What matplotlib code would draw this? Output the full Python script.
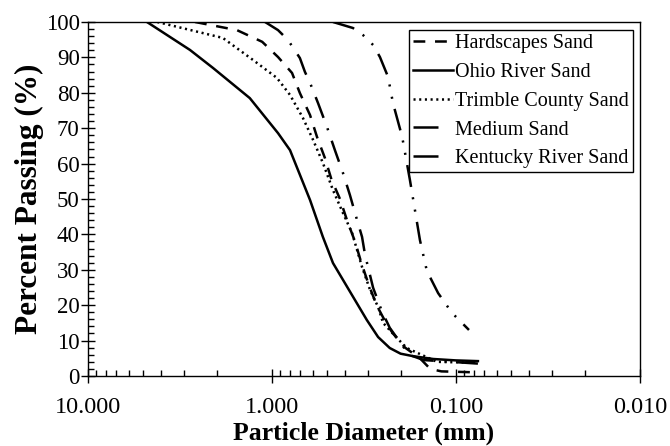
import numpy as np
import matplotlib
matplotlib.use("Agg")
from matplotlib import pyplot as plt
from matplotlib.ticker import MultipleLocator, LogLocator, FixedFormatter, FixedLocator

plt.rcParams['font.family'] = ['Liberation Serif', 'DejaVu Serif']
plt.rcParams['lines.scale_dashes'] = False

# gradation curves, particle diameter (mm) vs percent passing
hard_d = [2.62, 1.55, 1.13, 0.927, 0.778, 0.705, 0.621, 0.569, 0.515, 0.475, 0.427,
          0.391, 0.354, 0.327, 0.299, 0.270, 0.240, 0.220, 0.189, 0.157, 0.138, 0.120, 0.075]
hard_p = [100, 97.7, 94.4, 90.1, 85.6, 79.9, 73.7, 67.5, 61.5, 55.5, 50.0,
          44.0, 38.0, 32.0, 26.0, 20.0, 15.0, 12.0, 8.0, 5.0, 2.0, 1.3, 1.0]

ohio_d = [4.78, 2.79, 2.09, 1.32, 0.927, 0.798, 0.621, 0.529, 0.466, 0.305,
          0.265, 0.229, 0.200, 0.171, 0.133, 0.100, 0.076]
ohio_p = [100, 92.1, 87.0, 78.5, 68.6, 63.8, 49.7, 39.3, 31.9, 15.8,
          11.0, 7.9, 6.3, 5.6, 4.8, 4.4, 4.2]

trim_d = [4.2, 1.85, 1.27, 0.940, 0.798, 0.679, 0.598, 0.529, 0.466, 0.411, 0.367,
          0.324, 0.293, 0.265, 0.249, 0.209, 0.185, 0.127, 0.076]
trim_p = [100, 95.5, 89.3, 84.2, 79.4, 72.9, 66.7, 60.2, 52.5, 46.0, 40.4,
          30.8, 24.3, 19.5, 15.0, 10.7, 7.9, 4.0, 3.7]

med_d = [1.09, 0.927, 0.818, 0.705, 0.662, 0.621, 0.562, 0.502, 0.455, 0.411, 0.377,
         0.345, 0.324, 0.312, 0.282, 0.252, 0.229, 0.180, 0.150, 0.076]
med_p = [100, 97.7, 94.9, 89.8, 85.9, 82.8, 77.1, 70.3, 63.8, 57.3, 51.1,
         44.1, 39.3, 34.2, 24.9, 18.1, 13.6, 6.0, 4.5, 3.5]

ky_d = [0.466, 0.363, 0.320, 0.282, 0.259, 0.234, 0.220, 0.196, 0.178, 0.157, 0.144,
        0.125, 0.105, 0.085]
ky_p = [100, 98.3, 96.3, 93.5, 90.1, 84.5, 77.1, 67.5, 55.4, 38.4, 29.7,
        23.4, 17.8, 13.0]

x_ticks = [10, 1, 0.1, 0.01]
x_labels = ['10.000', '1.000', '0.100', '0.010']

fig = plt.figure(figsize=(6.7, 4.46), dpi=100)
ax = fig.add_axes([0.1313, 0.157, 0.8239, 0.7937])

lw = 1.8
ax.plot(hard_d, hard_p, color='black', lw=lw, linestyle=(0, (8.5, 7)), label='Hardscapes Sand')
ax.plot(ohio_d, ohio_p, color='black', lw=lw, linestyle='-', label='Ohio River Sand')
ax.plot(trim_d, trim_p, color='black', lw=lw, linestyle=(0, (1.5, 2.6)), label='Trimble County Sand')
ax.plot(med_d, med_p, color='black', lw=lw, linestyle=(0, (16, 8, 1.5, 8)), label='Medium Sand')
ax.plot(ky_d, ky_p, color='black', lw=lw, linestyle=(0, (16, 7.5, 1.5, 7.5, 1.5, 7.5)),
        label='Kentucky River Sand')

ax.set_xscale('log')
ax.set_xlim(10, 0.01)
ax.set_ylim(0, 100)

ax.xaxis.set_major_locator(FixedLocator(x_ticks))
ax.xaxis.set_major_formatter(FixedFormatter(x_labels))
ax.xaxis.set_minor_locator(LogLocator(base=10, subs=np.arange(2, 10)))
ax.xaxis.set_minor_formatter(plt.NullFormatter())
ax.yaxis.set_major_locator(MultipleLocator(10))
ax.yaxis.set_minor_locator(MultipleLocator(2))

ax.tick_params(which='major', direction='inout', length=10, width=1)
ax.tick_params(which='minor', direction='in', length=4, width=1)
ax.tick_params(axis='x', which='both', top=False)
ax.tick_params(axis='y', which='both', right=False)
ax.tick_params(axis='x', which='major', labelsize=17.5, pad=10)
ax.tick_params(axis='y', which='major', labelsize=16.5, pad=1)
for s in ax.spines.values():
    s.set_linewidth(1)

ax.set_xlabel('Particle Diameter (mm)', fontsize=18.5, fontweight='bold', labelpad=3)
ax.set_ylabel('Percent Passing (%)', fontsize=22.5, fontweight='bold', labelpad=1)

leg = ax.legend(loc='upper right', bbox_to_anchor=(0.987, 0.977), fontsize=14.5,
                frameon=True, fancybox=False, edgecolor='black', framealpha=1,
                handlelength=2.0, handletextpad=0.1, borderpad=0.2, labelspacing=0.48,
                borderaxespad=0)
leg.get_frame().set_linewidth(1)
# the long-dash styles only show their first dash in the key
for h in leg.get_lines()[3:]:
    h.set_linestyle((0, (18, 30)))

plt.savefig('out.png', dpi=100)
